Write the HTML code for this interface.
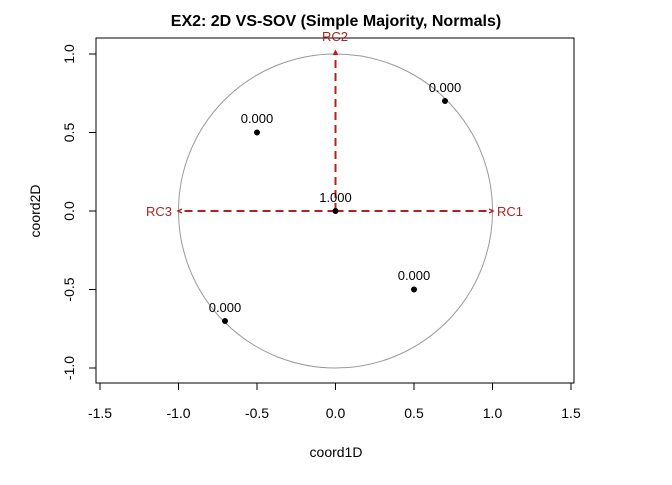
<!DOCTYPE html><html><head><style>body{margin:0;background:#fff}</style></head><body>
<svg width="672" height="480" xmlns="http://www.w3.org/2000/svg" font-family="Liberation Sans, Arial, sans-serif">
<rect width="672" height="480" fill="#fff"/>
<text x="336" y="26" text-anchor="middle" font-weight="bold" font-size="16">EX2: 2D VS-SOV (Simple Majority, Normals)</text>
<rect x="96" y="38" width="478" height="345" fill="none" stroke="#000"/>
<g stroke="#000">
<line x1="100" y1="383" x2="100" y2="390"/><line x1="178.5" y1="383" x2="178.5" y2="390"/><line x1="257" y1="383" x2="257" y2="390"/><line x1="335.5" y1="383" x2="335.5" y2="390"/><line x1="414" y1="383" x2="414" y2="390"/><line x1="492.5" y1="383" x2="492.5" y2="390"/><line x1="571" y1="383" x2="571" y2="390"/>
<line x1="89" y1="54" x2="96" y2="54"/><line x1="89" y1="132.5" x2="96" y2="132.5"/><line x1="89" y1="211" x2="96" y2="211"/><line x1="89" y1="289.5" x2="96" y2="289.5"/><line x1="89" y1="368" x2="96" y2="368"/>
</g>
<g font-size="14" text-anchor="middle">
<text x="100" y="418">-1.5</text><text x="178.5" y="418">-1.0</text><text x="257" y="418">-0.5</text><text x="335.5" y="418">0.0</text><text x="414" y="418">0.5</text><text x="492.5" y="418">1.0</text><text x="571" y="418">1.5</text>
<text x="336" y="457">coord1D</text>
<g transform="translate(74,0)">
<text transform="translate(0,54) rotate(-90)">1.0</text><text transform="translate(0,132.5) rotate(-90)">0.5</text><text transform="translate(0,211) rotate(-90)">0.0</text><text transform="translate(0,289.5) rotate(-90)">-0.5</text><text transform="translate(0,368) rotate(-90)">-1.0</text>
</g>
<text transform="translate(40,211) rotate(-90)">coord2D</text>
</g>
<circle cx="335.5" cy="211" r="157" fill="none" stroke="#999"/>
<g stroke="#B22222" stroke-width="2" stroke-dasharray="8,5" fill="none">
<line x1="335.5" y1="211" x2="492" y2="211"/><line x1="335.5" y1="211" x2="179" y2="211"/><line x1="335.5" y1="211" x2="335.5" y2="52"/>
</g>
<g stroke="#B22222" stroke-width="1.5" fill="none">
<path d="M489 209 L493 211 L489 213"/><path d="M182 209 L178 211 L182 213"/><path d="M333.5 55 L335.5 51 L337.5 55"/>
</g>
<g fill="#B22222" font-size="13">
<text x="497" y="216">RC1</text><text x="146" y="216">RC3</text><text x="335" y="41" text-anchor="middle">RC2</text>
</g>
<g fill="#000"><circle cx="445" cy="101" r="3"/><circle cx="257" cy="132.5" r="3"/><circle cx="335.5" cy="211" r="3"/><circle cx="414" cy="289.5" r="3"/><circle cx="225" cy="321" r="3"/></g>
<g font-size="13" text-anchor="middle">
<text x="445" y="92">0.000</text><text x="257" y="123">0.000</text><text x="335.5" y="202">1.000</text><text x="414" y="280">0.000</text><text x="225" y="312">0.000</text>
</g>
</svg></body></html>
